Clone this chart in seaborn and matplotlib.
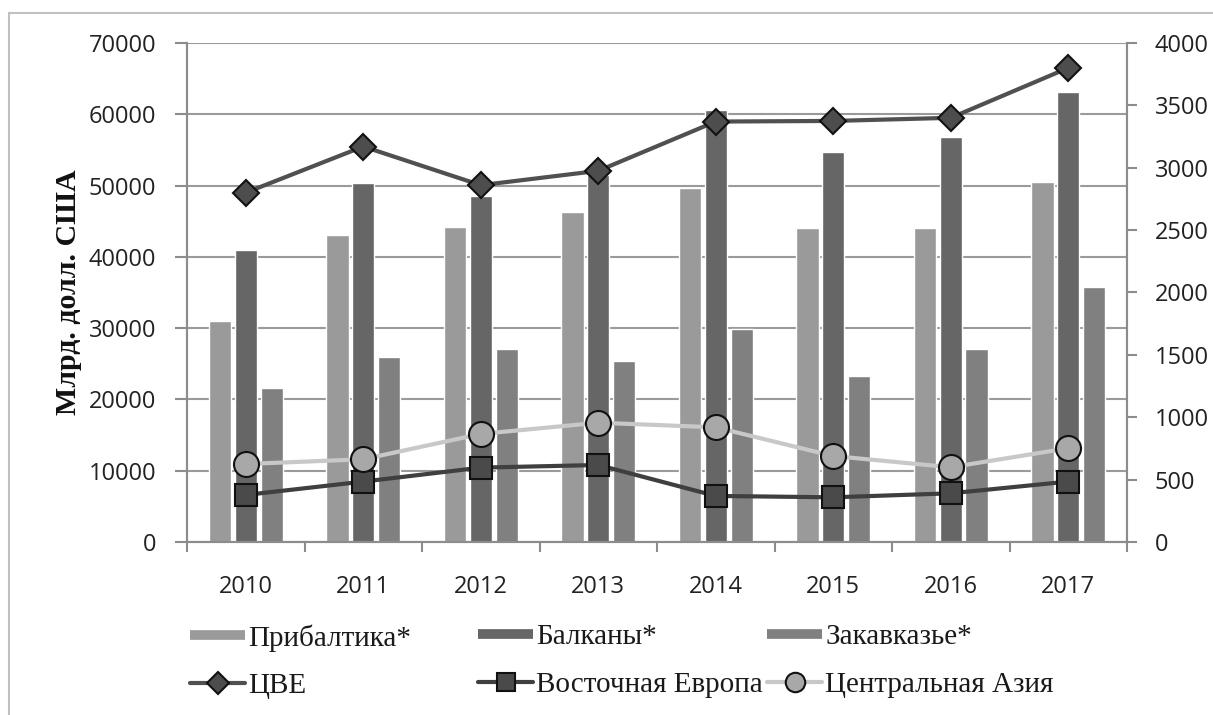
import numpy as np
import pandas as pd
import matplotlib.pyplot as plt
from matplotlib.lines import Line2D
import seaborn as sns

# Data
years = ['2010', '2011', '2012', '2013', '2014', '2015', '2016', '2017']
baltic = [31000, 43000, 44200, 46300, 49700, 44100, 44100, 50500]
balkans = [40900, 50300, 48500, 51500, 60600, 54700, 56800, 63100]
transcaucasia = [21600, 25900, 27000, 25400, 29900, 23300, 27000, 35700]
cee = [2800, 3170, 2860, 2975, 3370, 3375, 3400, 3800]
east_europe = [377, 484, 596, 617, 369, 358, 390, 484]
central_asia = [625, 663, 866, 956, 919, 689, 599, 751]

bar_names = ['Прибалтика*', 'Балканы*', 'Закавказье*']
bar_colors = ['#9a9a9a', '#666666', '#808080']

df = pd.DataFrame({
    'year': years * 3,
    'region': [bar_names[0]] * 8 + [bar_names[1]] * 8 + [bar_names[2]] * 8,
    'value': baltic + balkans + transcaucasia,
})

sns.set_theme(style='white')
tick_font = 'Open Sans'
serif = ['Liberation Serif', 'DejaVu Serif']

fig = plt.figure(figsize=(12.13, 7.15), dpi=100)
ax = fig.add_axes([0.1542, 0.2420, 0.7749, 0.6979])

sns.barplot(data=df, x='year', y='value', hue='region', palette=bar_colors,
            width=0.66, gap=0.14, edgecolor='white', linewidth=1,
            legend=False, ax=ax, zorder=2)

ax.set_xlim(-0.5, 7.5)
ax.set_ylim(0, 70000)
ax.set_yticks(np.arange(0, 70001, 10000))
ax.yaxis.grid(True, color='#9a9a9a', linewidth=1.5, zorder=0)
ax.set_axisbelow(True)
ax.set_xlabel('')
ax.set_ylabel('Млрд. долл. США', fontsize=21.5, fontweight='bold', family=serif,
              labelpad=5, color='#111111')

for side in ['left', 'bottom', 'right']:
    ax.spines[side].set_color('#8c8c8c')
    ax.spines[side].set_linewidth(1.5)
ax.spines['top'].set_visible(False)

ax.set_xticks(np.arange(8))
ax.set_xticklabels(years)
ax.set_xticks(np.arange(-0.5, 8, 1), minor=True)
ax.tick_params(axis='x', which='major', length=0, pad=24, labelsize=17,
               colors='#222222')
ax.tick_params(axis='x', which='minor', length=7, width=1.5, color='#8c8c8c',
               direction='out', bottom=True)
ax.tick_params(axis='y', length=9, width=1.5, color='#8c8c8c', direction='out',
               left=True, pad=13, labelsize=17, labelcolor='#222222')
for lab in ax.get_xticklabels() + ax.get_yticklabels():
    lab.set_family(tick_font)

# secondary axis for the lines
ax2 = ax.twinx()
x = np.arange(8)
sns.lineplot(x=x, y=cee, ax=ax2, color='#505050', linewidth=3, marker='D',
             markersize=13, markerfacecolor='#4d4d4d', markeredgecolor='#111111',
             markeredgewidth=1.5, legend=False, zorder=3)
sns.lineplot(x=x, y=east_europe, ax=ax2, color='#3f3f3f', linewidth=3, marker='s',
             markersize=16, markerfacecolor='#4a4a4a', markeredgecolor='#111111',
             markeredgewidth=1.5, legend=False, zorder=3)
sns.lineplot(x=x, y=central_asia, ax=ax2, color='#c8c8c8', linewidth=3, marker='o',
             markersize=18, markerfacecolor='#a8a8a8', markeredgecolor='#111111',
             markeredgewidth=1.5, legend=False, zorder=3)
ax2.set_ylim(0, 4000)
ax2.set_yticks(np.arange(0, 4001, 500))
ax2.grid(False)
ax2.set_ylabel('')
for side in ['left', 'bottom', 'right']:
    ax2.spines[side].set_color('#8c8c8c')
    ax2.spines[side].set_linewidth(1.5)
ax2.spines['top'].set_visible(False)
ax2.tick_params(axis='y', length=7, width=1.5, color='#8c8c8c', direction='out',
                right=True, pad=13, labelsize=17, labelcolor='#222222')
for lab in ax2.get_yticklabels():
    lab.set_family(tick_font)

# legend: three columns with equal spacing, like the original
def bar_handle(c):
    return Line2D([], [], color=c, linewidth=7, solid_capstyle='butt')

cols = [
    ([bar_handle(bar_colors[0]),
      Line2D([], [], color='#505050', lw=3, marker='D', ms=11,
             mfc='#4d4d4d', mec='#111111', mew=1.5)],
     [bar_names[0], 'ЦВЕ']),
    ([bar_handle(bar_colors[1]),
      Line2D([], [], color='#3f3f3f', lw=3, marker='s', ms=13,
             mfc='#4a4a4a', mec='#111111', mew=1.5)],
     [bar_names[1], 'Восточная Европа']),
    ([bar_handle(bar_colors[2]),
      Line2D([], [], color='#c8c8c8', lw=3, marker='o', ms=14,
             mfc='#a8a8a8', mec='#111111', mew=1.5)],
     [bar_names[2], 'Центральная Азия']),
]
xs = [190, 478, 767]
for (h, l), xp in zip(cols, xs):
    leg = fig.legend(h, l, loc='upper left',
                     bbox_to_anchor=(xp / 1213, 1 - 624 / 715),
                     frameon=False, handlelength=1.9, handletextpad=0.1,
                     labelspacing=0.72, borderpad=0, borderaxespad=0,
                     prop={'family': serif, 'size': 21})
    for t in leg.get_texts():
        t.set_color('#1a1a1a')

# frame lines of the original picture
fig.add_artist(Line2D([9 / 1213, 1], [1 - 13 / 715, 1 - 13 / 715],
                      transform=fig.transFigure, color='#c0c0c0', lw=1.5))
fig.add_artist(Line2D([9 / 1213, 9 / 1213], [0, 1 - 13 / 715],
                      transform=fig.transFigure, color='#c0c0c0', lw=1.5))

fig.savefig('out.png', dpi=100)
